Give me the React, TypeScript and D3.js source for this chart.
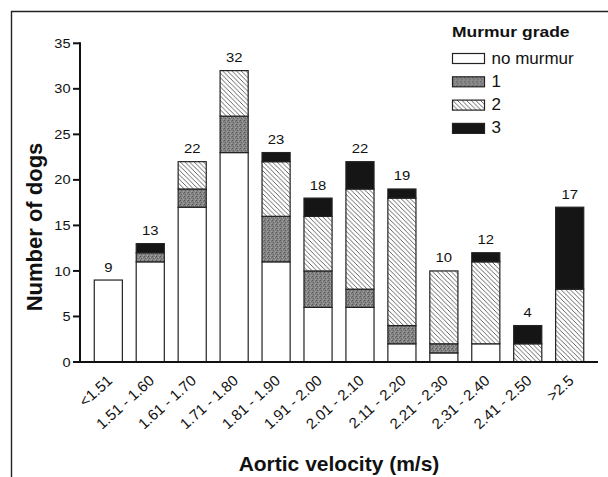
import React from "react";
import * as d3 from "d3";

const categories = ["<1.51", "1.51 - 1.60", "1.61 - 1.70", "1.71 - 1.80", "1.81 - 1.90", "1.91 - 2.00", "2.01 - 2.10", "2.11 - 2.20", "2.21 - 2.30", "2.31 - 2.40", "2.41 - 2.50", ">2.5"];
const noMurmur = [9, 11, 17, 23, 11, 6, 6, 2, 1, 2, 0, 0];
const grade1 = [0, 1, 2, 4, 5, 4, 2, 2, 1, 0, 0, 0];
const grade2 = [0, 0, 3, 5, 6, 6, 11, 14, 8, 9, 2, 8];
const grade3 = [0, 1, 0, 0, 1, 2, 3, 1, 0, 1, 2, 9];
const seriesKeys = ["none", "g1", "g2", "g3"];
const seriesLabels = ["no murmur", "1", "2", "3"];
const yTicks = [0, 5, 10, 15, 20, 25, 30, 35];

const W = 608;
const H = 477;
const m = { left: 80, right: 598, top: 43.3, bottom: 362 };

const fills: Record<string, string> = {
  none: "#ffffff",
  g1: "url(#stipple)",
  g2: "url(#hatch)",
  g3: "#151515",
};

export default function App() {
  const rows = categories.map((c, i) => ({
    cat: c,
    none: noMurmur[i],
    g1: grade1[i],
    g2: grade2[i],
    g3: grade3[i],
  }));
  const stack = d3.stack<any>().keys(seriesKeys);
  const layers = stack(rows);
  const x = d3.scaleBand<string>().domain(categories).range([m.left, m.right]).paddingInner(0.33).paddingOuter(0.34);
  const y = d3.scaleLinear().domain([0, 35]).range([m.bottom, m.top]);
  const totals = rows.map((r) => r.none + r.g1 + r.g2 + r.g3);
  const font = "'Liberation Sans', Arial, Helvetica, sans-serif";

  return (
    <svg width={W} height={H} style={{ position: "absolute", left: 0, top: 0, display: "block" }} fontFamily={font}>
      <defs>
        <pattern id="hatch" patternUnits="userSpaceOnUse" width={4.6} height={4.6}>
          <rect width={4.6} height={4.6} fill="#fff" />
          <path d="M0,0 L4.6,4.6 M-1,3.6 L1,5.6 M3.6,-1 L5.6,1" stroke="#333" strokeWidth={0.75} />
        </pattern>
        <pattern id="stipple" patternUnits="userSpaceOnUse" width={4} height={4}>
          <rect width={4} height={4} fill="#858585" />
          <rect x={0} y={0} width={1} height={1} fill="#555" />
          <rect x={2} y={1} width={1} height={1} fill="#aaa" />
          <rect x={1} y={2} width={1} height={1} fill="#606060" />
          <rect x={3} y={3} width={1} height={1} fill="#a0a0a0" />
          <rect x={3} y={1} width={1} height={1} fill="#686868" />
        </pattern>
      </defs>

      {/* frame */}
      <path d={`M11.5,${H} L11.5,11.5 L${W},11.5`} fill="none" stroke="#222" strokeWidth={1.4} />

      {/* bars */}
      {layers.map((layer) => (
        <g key={layer.key}>
          {layer.map((d, i) =>
            d[1] - d[0] > 0 ? (
              <rect
                key={i}
                x={x(categories[i])}
                y={y(d[1])}
                width={x.bandwidth()}
                height={y(d[0]) - y(d[1])}
                fill={fills[layer.key]}
                stroke="#222"
                strokeWidth={1.2}
              />
            ) : null
          )}
        </g>
      ))}

      {/* totals */}
      {totals.map((t, i) => (
        <g key={i} transform={`translate(${(x(categories[i]) as number) + x.bandwidth() / 2},${y(t) - 8.5}) scale(1.1,1)`}>
          <text textAnchor="middle" fontSize={13.5} fill="#111">
            {t}
          </text>
        </g>
      ))}

      {/* y axis */}
      <line x1={m.left} x2={m.left} y1={m.top - 1} y2={m.bottom + 1} stroke="#111" strokeWidth={2} />
      {yTicks.map((t) => (
        <g key={t} transform={`translate(0,${y(t)})`}>
          <line x1={m.left - 7} x2={m.left} stroke="#111" strokeWidth={2} />
          <g transform={`translate(${m.left - 9.5},0) scale(1.12,1)`}>
            <text dy="0.35em" textAnchor="end" fontSize={13} fill="#111">
              {t}
            </text>
          </g>
        </g>
      ))}

      {/* x axis */}
      <line x1={m.left - 1} x2={m.right} y1={m.bottom} y2={m.bottom} stroke="#111" strokeWidth={2} />
      {categories.map((c) => {
        const cx = (x(c) as number) + x.bandwidth() / 2;
        return (
          <g key={c} transform={`translate(${cx + 5},${m.bottom + 20}) rotate(-42)`}>
            <text textAnchor="end" fontSize={15} fill="#111">
              {c}
            </text>
          </g>
        );
      })}

      {/* axis titles */}
      <text x={(m.left + m.right) / 2} y={471} textAnchor="middle" fontSize={21} fontWeight="bold" fill="#111">
        Aortic velocity (m/s)
      </text>
      <text transform={`translate(42,227) rotate(-90)`} textAnchor="middle" fontSize={22} fontWeight="bold" fill="#111">
        Number of dogs
      </text>

      {/* legend */}
      <g transform="translate(452,36.7) scale(1.13,1)">
        <text fontSize={15.5} fontWeight="bold" fill="#111">
          Murmur grade
        </text>
      </g>
      {seriesKeys.map((k, i) => (
        <g key={k} transform={`translate(452.5,${53.5 + i * 23.3})`}>
          <rect width={32} height={10} fill={fills[k]} stroke="#222" strokeWidth={1.2} />
          <text x={39} y={10} fontSize={17} fill="#111">
            {seriesLabels[i]}
          </text>
        </g>
      ))}
    </svg>
  );
}
